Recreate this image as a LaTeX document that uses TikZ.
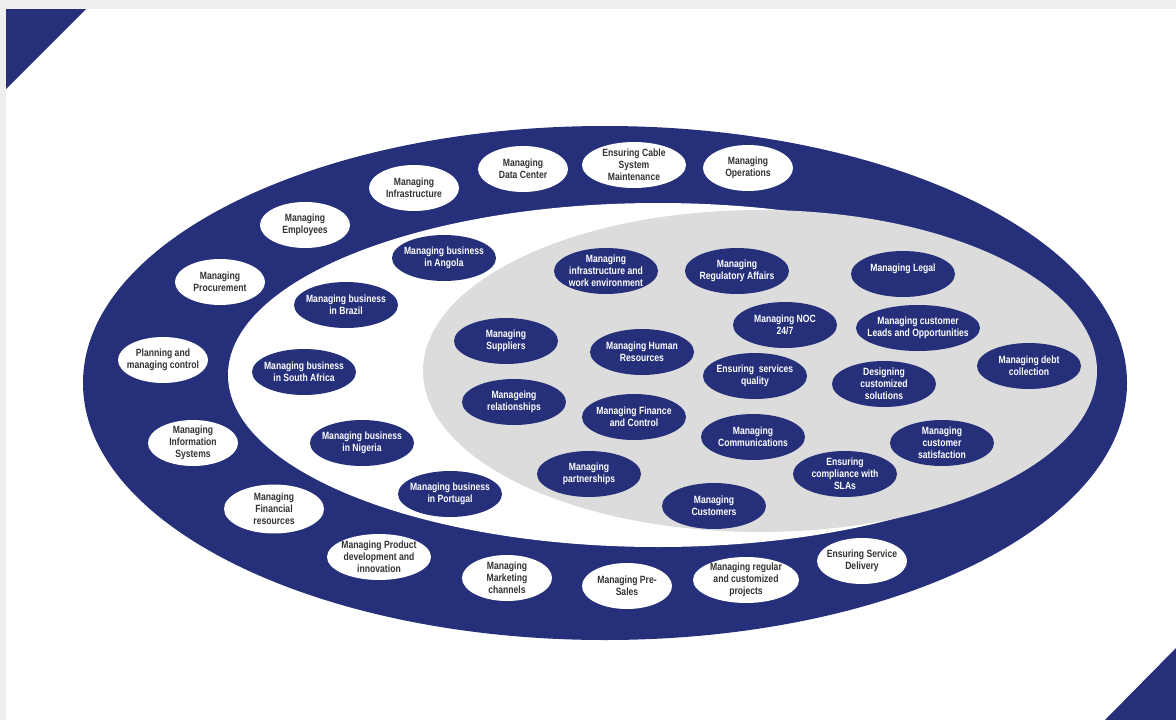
\documentclass[tikz,border=0pt]{standalone}
\usepackage{fontspec}
\usetikzlibrary{shapes.geometric}
\newfontfamily\lblfont[FakeStretch=0.82]{Liberation Sans}
\definecolor{navy}{HTML}{252F7A}
\definecolor{ringgray}{HTML}{DCDCDC}
\definecolor{framegray}{HTML}{EEEEEE}
\definecolor{inkgray}{HTML}{333333}
\tikzset{
  bubble/.style={shape=ellipse, inner xsep=-14pt, inner ysep=-9pt, align=center,
    minimum width=104pt, minimum height=46pt,
    font=\lblfont\bfseries\fontsize{10.5}{12}\selectfont},
  outerbubble/.style={bubble, fill=white, text=inkgray, minimum width=90pt},
  innerbubble/.style={bubble, fill=navy, text=white},
}
\begin{document}
\begin{tikzpicture}[x=1pt,y=-1pt]
  % page and frame
  \fill[framegray] (0,0) rectangle (1176,720);
  \fill[white] (6,9) rectangle (1176,720);
  \useasboundingbox (0,0) rectangle (1176,720);
  % corner triangles
  \fill[navy] (6,9) -- (86,9) -- (6,89) -- cycle;
  \fill[navy] (1105,720) -- (1176,648) -- (1176,720) -- cycle;
  % rings
  \fill[navy] (605,383) ellipse [x radius=522pt, y radius=257pt];
  \fill[white] (658,375) ellipse [x radius=430pt, y radius=172pt];
  \fill[ringgray] (760,371) ellipse [x radius=337pt, y radius=161pt];

  % outer ring
  \node[outerbubble] (datacenter) at (523,169) {Managing\\Data Center};
  \node[outerbubble, minimum width=104pt] (cable) at (634,165) {Ensuring Cable\\System\\Maintenance};
  \node[outerbubble] (operations) at (748,168) {Managing\\Operations};
  \node[outerbubble] (infra) at (414,188) {Managing\\Infrastructure};
  \node[outerbubble] (employees) at (305,225) {Managing\\Employees};
  \node[outerbubble] (procurement) at (220,282) {Managing\\Procurement};
  \node[outerbubble] (planning) at (163,360) {Planning and\\managing control};
  \node[outerbubble] (infosys) at (193,443) {Managing\\Information\\Systems};
  \node[outerbubble, minimum width=100pt, minimum height=49pt] (financial) at (274,509) {Managing\\Financial\\resources};
  \node[outerbubble, minimum width=104pt] (product) at (379,557) {Managing Product\\development and\\innovation};
  \node[outerbubble] (marketing) at (507,578) {Managing\\Marketing\\channels};
  \node[outerbubble] (presales) at (627,586) {Managing Pre-\\Sales};
  \node[outerbubble, minimum width=106pt] (projects) at (746,580) {Managing regular\\and customized\\projects};
  \node[outerbubble] (delivery) at (862,561) {Ensuring Service\\Delivery};

  % middle ring
  \node[innerbubble] (angola) at (444,258) {Managing business\\in Angola};
  \node[innerbubble] (brazil) at (346,305) {Managing business\\in Brazil};
  \node[innerbubble] (safrica) at (304,372) {Managing business\\in South Africa};
  \node[innerbubble] (nigeria) at (362,443) {Managing business\\in Nigeria};
  \node[innerbubble] (portugal) at (450,494) {Managing business\\in Portugal};

  % core
  \node[innerbubble] (workenv) at (606,271) {Managing\\infrastructure and\\work environment};
  \node[innerbubble] (regulatory) at (737,271) {Managing\\Regulatory Affairs};
  \node[innerbubble] (legal) at (903,274) {Managing Legal\\\mbox{}};
  \node[innerbubble, minimum width=124pt] (leads) at (918,328) {Managing customer\\Leads and Opportunities};
  \node[innerbubble] (debt) at (1029,366) {Managing debt\\collection};
  \node[innerbubble] (designing) at (884,384) {Designing\\customized\\solutions};
  \node[innerbubble] (satisfaction) at (942,443) {Managing\\customer\\satisfaction};
  \node[innerbubble] (noc) at (785,325) {Managing NOC\\24/7};
  \node[innerbubble] (hr) at (642,352) {Managing Human\\Resources};
  \node[innerbubble] (quality) at (755,376) {Ensuring\ \ services\\quality};
  \node[innerbubble] (suppliers) at (506,341) {Managing\\Suppliers};
  \node[innerbubble] (relationships) at (514,402) {Manageing\\relationships};
  \node[innerbubble] (finance) at (634,417) {Managing Finance\\and Control};
  \node[innerbubble] (communications) at (753,437) {Managing\\Communications};
  \node[innerbubble] (partnerships) at (589,474) {Managing\\partnerships};
  \node[innerbubble] (customers) at (714,506) {Managing\\Customers};
  \node[innerbubble] (slas) at (845,474) {Ensuring\\compliance with\\SLAs};
\end{tikzpicture}
\end{document}
